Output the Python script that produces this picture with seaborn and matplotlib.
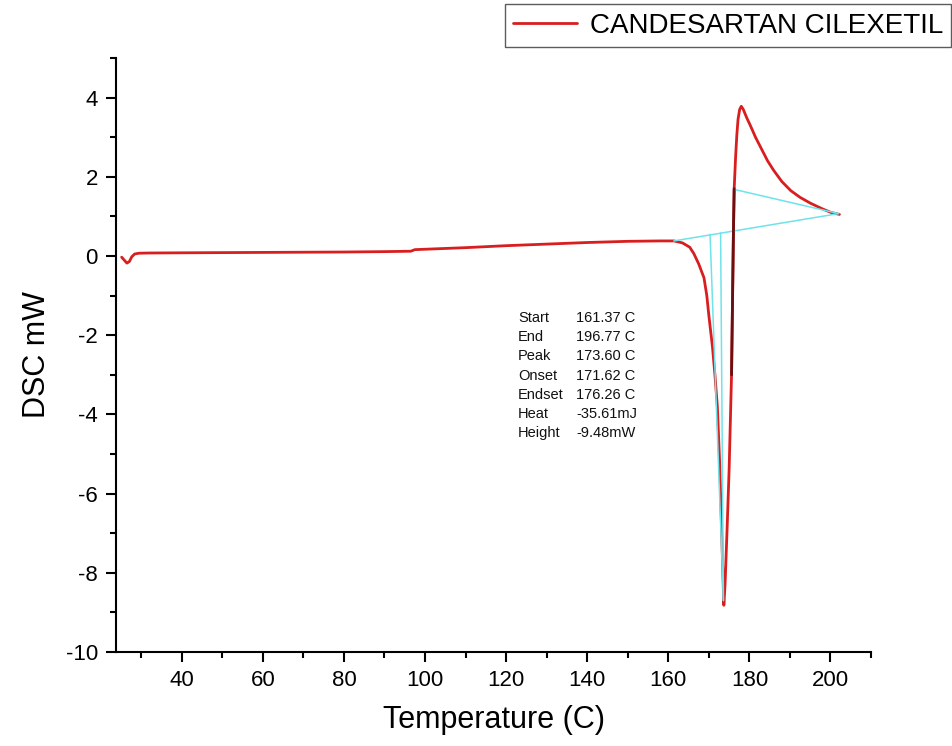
import numpy as np
import pandas as pd
import matplotlib
matplotlib.use("Agg")
import matplotlib.pyplot as plt
from matplotlib.ticker import MultipleLocator
import seaborn as sns

# ==================== Data ====================
TEMP = [25.2, 25.8, 26.5, 27.1, 27.7, 28.4, 29.5, 32.0, 40.0, 50.0, 60.0,
        70.0, 80.0, 90.0, 96.5, 97.5, 100.0, 110.0, 120.0, 130.0, 140.0,
        150.0, 158.0, 161.4, 163.5, 165.3, 166.3, 167.5, 168.8, 169.5,
        170.0, 170.9, 171.5, 172.1, 172.7, 173.2, 173.7, 174.0, 174.5,
        175.0, 175.6, 176.05, 176.25, 176.6, 176.9, 177.2, 177.6, 178.0,
        178.5, 179.3, 180.3, 181.5, 182.8, 184.5, 186.0, 188.0, 190.2,
        192.5, 195.1, 198.0, 200.1, 202.2]
DSC = [-0.03, -0.10, -0.18, -0.14, -0.02, 0.05, 0.07, 0.075, 0.08, 0.085,
       0.09, 0.095, 0.10, 0.11, 0.12, 0.16, 0.17, 0.21, 0.26, 0.30, 0.34,
       0.37, 0.38, 0.38, 0.33, 0.22, 0.06, -0.20, -0.55, -1.0,
       -1.5, -2.3, -3.0, -3.8, -5.3, -7.1, -8.82, -8.3, -6.9,
       -5.4, -3.0, 0.5, 1.7, 2.5, 3.05, 3.45, 3.7, 3.78,
       3.7, 3.5, 3.28, 3.0, 2.74, 2.4, 2.16, 1.88, 1.65,
       1.48, 1.33, 1.19, 1.10, 1.05]

# darker overlay on the rising edge
DARK_T = [175.6, 176.05, 176.25]
DARK_V = [-3.0, 0.5, 1.7]

# integration construction lines (cyan)
BASE_T, BASE_V = [161.37, 202.0], [0.38, 1.07]
UPPER_T, UPPER_V = [176.3, 202.0], [1.68, 1.07]
DROP1_T, DROP1_V = [170.3, 173.6], [0.55, -8.7]
DROP2_T, DROP2_V = [172.9, 173.6], [0.58, -8.7]

RESULT_NAMES = ["Start", "End", "Peak", "Onset", "Endset", "Heat", "Height"]
RESULT_VALUES = ["161.37 C", "196.77 C", "173.60 C", "171.62 C", "176.26 C",
                 "-35.61mJ", "-9.48mW"]

LABEL = "CANDESARTAN CILEXETIL"
COLOR_RED = "#d81e1e"
COLOR_CYAN = "#6fe3ea"

# ==================== Plot Settings ====================
sns.set_style("ticks")
plt.rcParams.update({
    "font.family": ["Liberation Sans", "DejaVu Sans"],
    "axes.unicode_minus": False,
    "axes.linewidth": 1.5,
    "axes.edgecolor": "black", "axes.labelcolor": "black",
    "xtick.color": "black", "ytick.color": "black", "text.color": "black",
    "xtick.direction": "out", "ytick.direction": "out",
})

df = pd.DataFrame({"Temperature": TEMP, "DSC": DSC, "Sample": LABEL})

fig = plt.figure(figsize=(9.53, 7.46), dpi=100)
ax = fig.add_axes([0.1217, 0.126, 0.7923, 0.7963])

for tx, ty in [(BASE_T, BASE_V), (UPPER_T, UPPER_V),
               (DROP1_T, DROP1_V), (DROP2_T, DROP2_V)]:
    ax.plot(tx, ty, color=COLOR_CYAN, lw=1.1, zorder=3)

sns.lineplot(data=df, x="Temperature", y="DSC", hue="Sample",
             palette=[COLOR_RED], sort=False, estimator=None,
             lw=2.0, ax=ax, zorder=2, legend=False)
ax.plot(DARK_T, DARK_V, color="#6b1010", lw=2.0, zorder=4)

ax.set_xlim(23.8, 210)
ax.set_ylim(-10, 5)
ax.xaxis.set_minor_locator(MultipleLocator(10))
ax.yaxis.set_major_locator(MultipleLocator(2))
ax.yaxis.set_minor_locator(MultipleLocator(1))
ax.set_xticks([40, 60, 80, 100, 120, 140, 160, 180, 200])
ax.tick_params(which="major", length=7, width=1.5, labelsize=16, pad=6)
ax.tick_params(which="minor", length=4, width=1.5)
sns.despine(ax=ax)

ax.set_xlabel("Temperature (C)", fontsize=22, labelpad=10)
ax.set_ylabel("DSC mW", fontsize=22, labelpad=10)

# results table
for i, (name, val) in enumerate(zip(RESULT_NAMES, RESULT_VALUES)):
    yf = 1 - (318 + i * 19.2) / 746
    fig.text(518 / 953, yf, name, fontsize=10.5, va="center", color="#111111")
    fig.text(576 / 953, yf, val, fontsize=10.5, va="center", color="#111111")

# legend outside the axes, top right
handle = plt.Line2D([], [], color=COLOR_RED, lw=2.0)
leg = fig.legend([handle], [LABEL], loc="upper right",
                 bbox_to_anchor=(0.998, 0.994), frameon=True, fancybox=False,
                 edgecolor="#333333", fontsize=20, handlelength=2.3,
                 borderpad=0.3, handletextpad=0.45, borderaxespad=0)
leg.get_frame().set_linewidth(1.0)

fig.savefig("out.png", dpi=100)
